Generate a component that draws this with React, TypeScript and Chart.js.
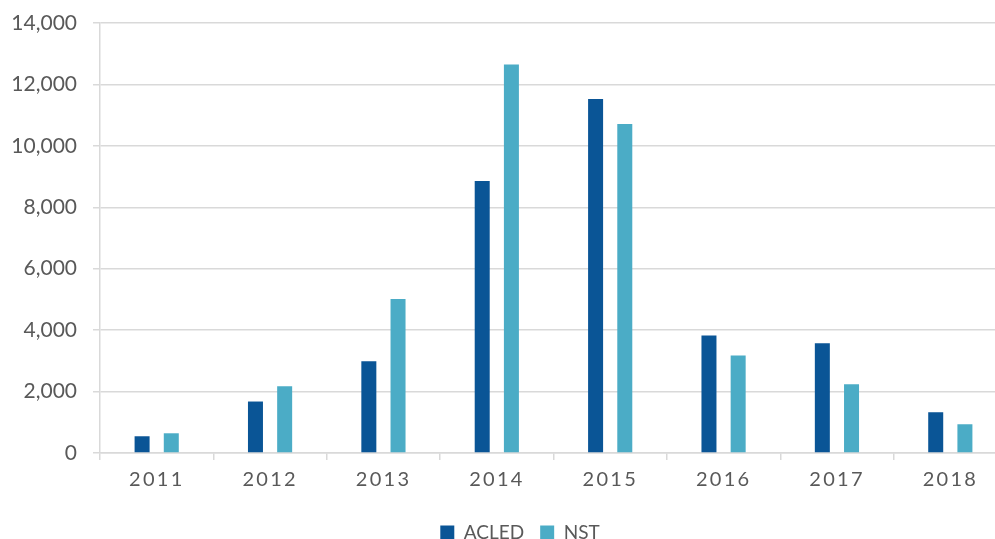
import React, { useEffect, useRef } from 'react';
import { Chart, registerables } from 'chart.js';

Chart.register(...registerables);

const years = ['2011', '2012', '2013', '2014', '2015', '2016', '2017', '2018'];
const acledValues = [545, 1676, 2990, 8859, 11523, 3828, 3577, 1327];
const nstValues = [642, 2175, 5011, 12651, 10708, 3176, 2240, 936];
const seriesNames = ['ACLED', 'NST'];
const yMax = 14000;
const yStep = 2000;

const ACLED_COLOR = '#0a5596';
const NST_COLOR = '#4bacc6';
const GRID = '#d9d9d9';
const TEXT = '#595959';
const FONT = 'Lato, "Open Sans", sans-serif';

const xLabelPlugin = {
  id: 'xLabels',
  afterDraw(chart: any) {
    const xs = chart.scales.x;
    const ctx = chart.ctx;
    ctx.save();
    ctx.font = `20px ${FONT}`;
    ctx.fillStyle = TEXT;
    ctx.textAlign = 'center';
    ctx.textBaseline = 'middle';
    const spacing = 2.3;
    (ctx as any).letterSpacing = `${spacing}px`;
    years.forEach((label, i) => {
      const x = xs.getPixelForValue(i) + spacing / 2 - 1;
      ctx.fillText(label, x, xs.top + 27);
    });
    (ctx as any).letterSpacing = '0px';
    ctx.restore();
  },
};

export default function App() {
  const ref = useRef<HTMLCanvasElement | null>(null);

  useEffect(() => {
    if (!ref.current) return;
    const chart = new Chart(ref.current, {
      type: 'bar',
      data: {
        labels: years,
        datasets: [
          {
            label: seriesNames[0],
            data: acledValues,
            backgroundColor: ACLED_COLOR,
            borderWidth: 0,
            categoryPercentage: 0.515,
            barPercentage: 0.514,
          },
          {
            label: seriesNames[1],
            data: nstValues,
            backgroundColor: NST_COLOR,
            borderWidth: 0,
            categoryPercentage: 0.515,
            barPercentage: 0.514,
          },
        ],
      },
      options: {
        responsive: false,
        animation: false,
        layout: { padding: { top: 23, left: 0, right: 0, bottom: -13 } },
        plugins: {
          legend: {
            position: 'bottom',
            labels: {
              boxWidth: 14,
              boxHeight: 14,
              padding: 16,
              color: TEXT,
              font: { size: 19, family: FONT },
            },
          },
          tooltip: { enabled: false },
        },
        scales: {
          x: {
            grid: {
              display: true,
              drawOnChartArea: false,
              drawTicks: true,
              tickLength: 7,
              offset: true,
              color: GRID,
              lineWidth: 1.5,
            },
            border: { display: true, color: GRID, width: 1.5 },
            ticks: { display: false },
            afterFit(s: any) {
              s.height = 54;
            },
          },
          y: {
            min: 0,
            max: yMax,
            ticks: {
              stepSize: yStep,
              padding: 16,
              color: TEXT,
              font: { size: 21, family: FONT, lineHeight: 0.3 },
              callback: (v: any) => Number(v).toLocaleString('en-US'),
            },
            grid: { color: GRID, lineWidth: 1.5, tickLength: 7, drawTicks: true },
            border: { display: true, color: GRID, width: 1.5 },
            afterFit(s: any) {
              s.width = 100;
            },
          },
          y2: {
            position: 'right',
            display: true,
            min: 0,
            max: yMax,
            grid: { display: false, drawTicks: false },
            border: { display: false },
            ticks: { display: false },
            afterFit(s: any) {
              s.width = 33;
            },
          },
        },
      },
      plugins: [xLabelPlugin],
    } as any);
    return () => chart.destroy();
  }, []);

  return (
    <div style={{ position: 'fixed', left: 0, top: 0, width: 995, height: 539, overflow: 'hidden', background: '#fff' }}>
      <canvas ref={ref} width={1040} height={539} style={{ display: 'block', width: 1040, height: 539 }} />
    </div>
  );
}
